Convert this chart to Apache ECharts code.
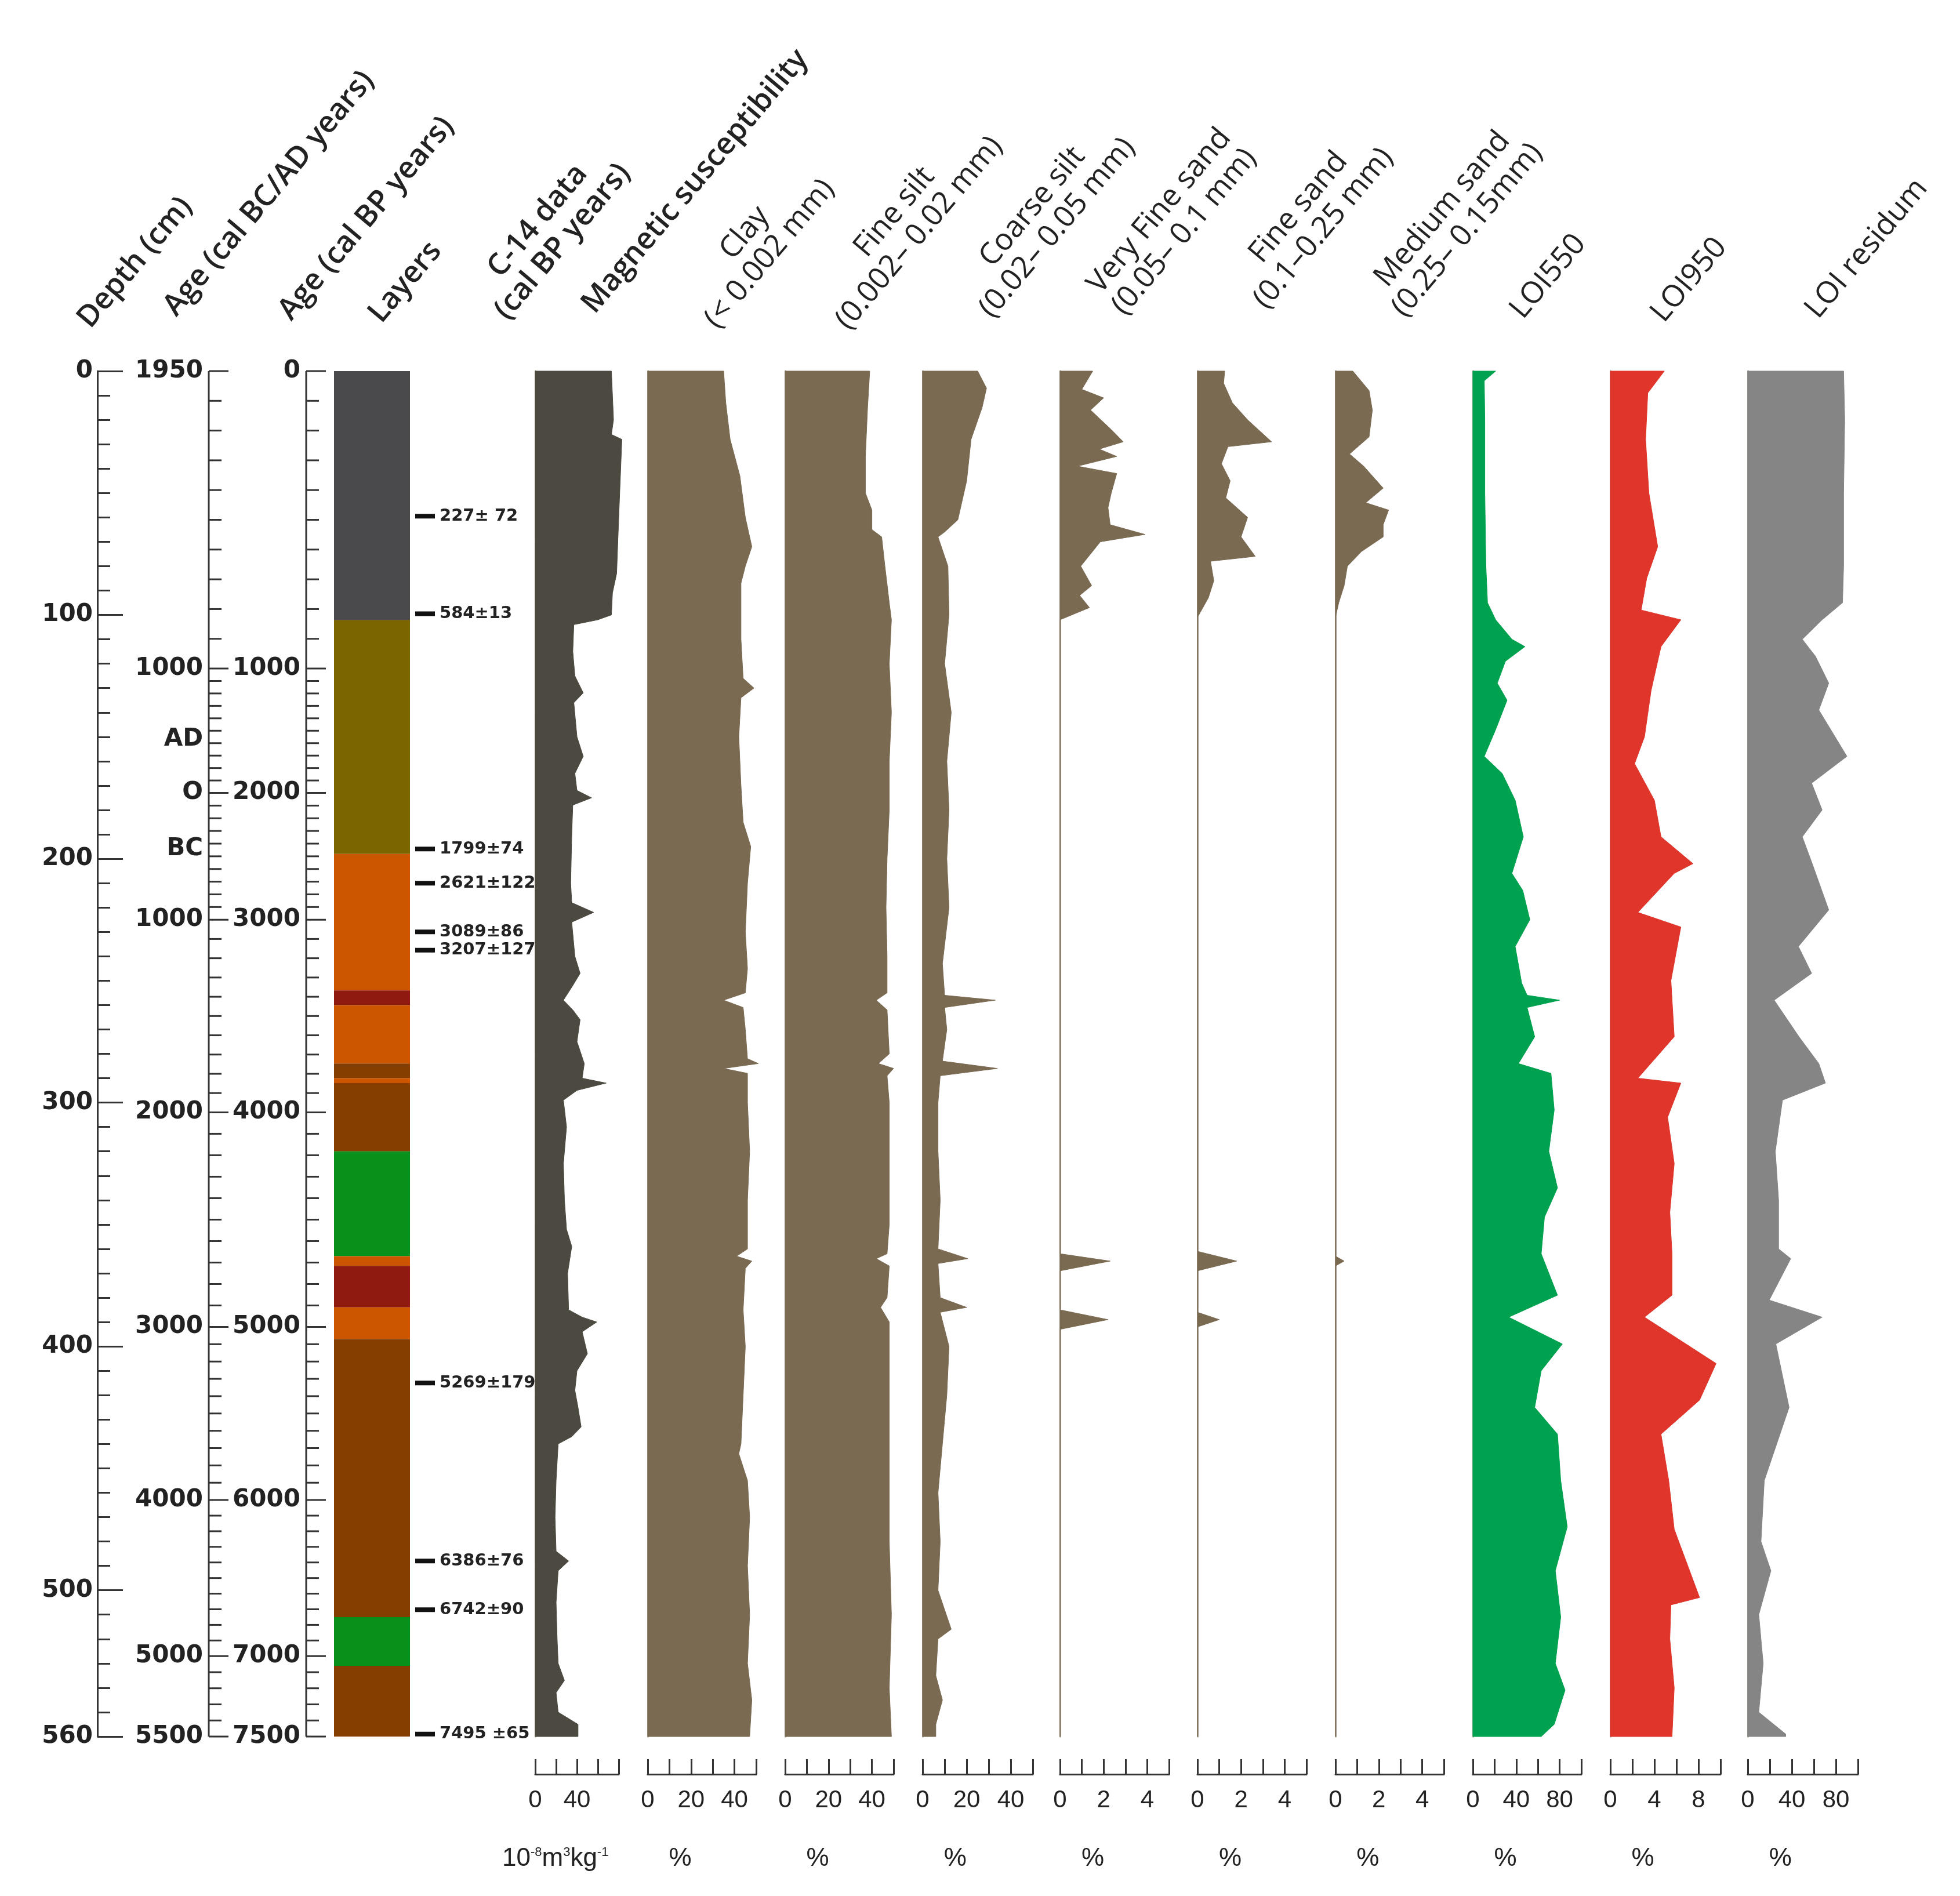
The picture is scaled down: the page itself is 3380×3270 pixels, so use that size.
<!DOCTYPE html>
<html>
<head>
<meta charset="utf-8">
<title>Core profile</title>
<script src="https://cdn.jsdelivr.net/npm/echarts@6/dist/echarts.min.js"></script>
<style>
  * { margin: 0; padding: 0; }
  body { background: #fff; }
  #chart { width: 3380px; height: 3270px; }
</style>
</head>
<body>
<div id="chart"></div>
<script>
// ---- data (depth in cm, value) ----
var bpTicks = [[0, 0], [1000, 122], [2000, 173], [3000, 225], [4000, 304], [5000, 392], [6000, 463], [7000, 527], [7500, 560]];
var bcadLabels = ['1950', '1000', 'AD', 'O', 'BC', '1000', '2000', '3000', '4000', '5000', '5500'];
var bcadDepths = [0, 122, 151, 173, 196, 225, 304, 392, 463, 527, 560];
var bcadMajor = [1, 1, 0, 1, 0, 1, 1, 1, 1, 1, 1];

var layerTops    = [0, 102, 198, 254, 260, 284, 290, 292, 320, 363, 367, 384, 397, 511, 531];
var layerBottoms = [102, 198, 254, 260, 284, 290, 292, 320, 363, 367, 384, 397, 511, 531, 560];
var layerColors  = ['#4a4a4c', '#7b6500', '#cc5500', '#8e1a10', '#cc5500', '#853d00', '#cc5500', '#853d00',
                    '#07901a', '#cc5500', '#8e1a10', '#cc5500', '#853d00', '#07901a', '#853d00'];

var c14Labels = ['227\u00b1 72', '584\u00b113', '1799\u00b174', '2621\u00b1122', '3089\u00b186', '3207\u00b1127',
                 '5269\u00b1179', '6386\u00b176', '6742\u00b190', '7495 \u00b165'];
var c14Depths = [59.5, 99.5, 196, 210, 230, 237.5, 415, 488, 508, 559];

var msData = [[0,73],[20,75],[26,73],[28,83],[60,80],[83,78],[91,74],[100,73],[102,60],[104,37],[115,36],[125,38],[132,46],[136,37],[150,40],[158,46],[165,38],[172,40],[175,54],[178,36],[190,35],[210,34],[218,35],[222,56],[226,35],[240,38],[247,43],[252,36],[258,27],[262,36],[266,43],[275,40],[284,47],[290,45],[292,68],[295,40],[299,27],[310,30],[325,27],[340,28],[352,30],[359,35],[370,31],[385,32],[388,45],[390,59],[394,45],[403,50],[410,40],[418,38],[425,41],[433,44],[437,35],[440,22],[455,20],[470,19],[484,20],[488,32],[492,22],[505,20],[520,21],[530,22],[537,28],[542,20],[550,22],[555,41],[560,41]];
var clayData = [[0,35],[13,36],[28,38],[43,42.5],[60,45],[72,48],[80,45],[87,43],[100,43],[110,43],[126,44],[130,49],[134,43],[150,42],[170,43],[185,44],[195,47.5],[210,46],[230,45],[245,46],[255,45],[258,35],[261,44],[270,45],[282,46],[284,51],[286,35],[288,46],[300,46],[320,47],[340,46],[360,46],[363,41],[365,48],[368,45],[385,44],[400,45],[420,44],[440,43],[444,42],[455,46],[470,47],[490,46],[510,47],[530,46],[545,48],[560,47]];
var fineSiltData = [[0,39],[15,38],[35,37],[50,37],[57,40],[65,40],[68,44.5],[80,46],[95,48],[102,49],[120,48],[140,49],[160,48],[180,48],[200,47],[220,46.5],[240,47],[255,47],[258,42],[262,47],[280,48],[284,43],[286,50],[289,47],[300,48],[330,48],[350,48],[362,47],[364,42],[367,48],[380,47],[384,44],[390,48],[420,48],[450,48],[480,48],[510,49],[540,48],[560,49]];
var coarseSiltData = [[0,25],[7,29],[15,27],[28,22],[45,20],[61,16],[66,10],[68,7],[80,11.5],[100,12],[120,10],[140,13],[160,11],[180,12],[200,11],[220,12],[243,9],[256,10],[258,33],[261,10],[270,11],[283,9],[286,34],[289,8],[300,7],[320,7],[340,8],[360,7],[364,20.5],[366,7],[380,8],[384,20],[386,8],[400,12],[420,11],[440,9],[460,7],[480,8],[500,7],[516,13],[520,7],[535,6],[545,9],[555,6],[560,6]];
var vfSandData = [[0,1.5],[7.5,1.0],[11,2.0],[16,1.4],[24,2.35],[29,2.9],[32,1.8],[35,2.6],[39,0.8],[42,2.6],[50,2.35],[56,2.2],[63,2.3],[67,3.9],[70,1.85],[80,0.95],[88,1.45],[92,0.9],[97,1.35],[102,0],[362,0],[365,2.3],[369,0],[385,0],[389,2.2],[393,0],[560,0]];
var fineSandData = [[0,1.25],[5,1.2],[13,1.6],[20,2.3],[29,3.4],[31,1.4],[38,1.1],[45,1.5],[52,1.3],[60,2.3],[68,2.0],[76,2.65],[78,0.6],[86,0.75],[93,0.5],[101,0],[361,0],[365,1.8],[369,0],[386,0],[389,1.0],[392,0],[560,0]];
var medSandData = [[0,0.8],[8,1.55],[16,1.7],[27,1.55],[34,0.65],[39,1.3],[48,2.2],[54,1.4],[57,2.45],[63,2.2],[68,2.2],[74,1.2],[80,0.55],[88,0.4],[95,0.15],[101,0],[363,0],[365,0.4],[367,0],[560,0]];
var loi550Data = [[0,21],[4,10.5],[20,11],[50,11],[80,12],[95,13.5],[102,21],[110,36],[113,48],[119,30],[128,22.5],[135,31.5],[147,21],[158,10.5],[165,27],[176,39],[191,46.5],[206,36],[213,46],[225,52.5],[236,39],[251,45],[256,50],[258,80],[261,50],[273,57],[284,42],[288,72],[303,75],[320,70],[335,78],[347,66],[362,63],[379,78],[388,33],[399,82.5],[410,63],[425,57],[436,78],[455,81],[474,87],[492,76],[511,81],[530,76],[541,85],[555,75],[560,63]];
var loi950Data = [[0,4.9],[9,3.4],[28,3.2],[50,3.5],[72,4.3],[85,3.3],[98,2.8],[102,6.4],[113,4.6],[131,3.7],[150,3.1],[161,2.2],[176,4.0],[191,4.6],[202,7.5],[206,5.8],[222,2.5],[228,6.4],[250,5.5],[273,5.8],[290,2.5],[292,6.4],[306,5.2],[325,5.8],[345,5.4],[362,5.6],[379,5.6],[388,3.1],[407,9.6],[422,8.1],[436,4.6],[455,5.3],[475,5.8],[503,8.1],[506,5.5],[520,5.4],[540,5.8],[560,5.6]];
var loiResData = [[0,87],[20,88],[50,87],[80,87],[95,86],[102,67.5],[110,49.5],[117,61.5],[128,73.5],[139,64.5],[158,90],[169,58],[180,67.5],[191,49.5],[202,58.5],[221,73.5],[236,46],[247,58],[258,24],[273,46.5],[284,64.5],[292,70.5],[299,31.5],[320,25],[340,28],[360,28],[364,39],[381,19.5],[388,67.5],[399,25.5],[425,37.5],[455,15],[480,12],[492,21],[510,10],[530,14],[550,10],[559,34.5],[560,34.5]];

// ---- layout ----
var TOP = 640, BOTTOM = 275;
var BROWN = '#7b6a52';
var cols = [
  { data: msData,         left: 923,  width: 144, max: 80,  step: 20, lab: 40, color: '#4c4a40' },
  { data: clayData,       left: 1117, width: 187, max: 50,  step: 10, lab: 20, color: BROWN },
  { data: fineSiltData,   left: 1354, width: 187, max: 50,  step: 10, lab: 20, color: BROWN },
  { data: coarseSiltData, left: 1591, width: 190, max: 50,  step: 10, lab: 20, color: BROWN },
  { data: vfSandData,     left: 1828, width: 188, max: 5,   step: 1,  lab: 2,  color: BROWN },
  { data: fineSandData,   left: 2065, width: 188, max: 5,   step: 1,  lab: 2,  color: BROWN },
  { data: medSandData,    left: 2303, width: 187, max: 5,   step: 1,  lab: 2,  color: BROWN },
  { data: loi550Data,     left: 2540, width: 187, max: 100, step: 20, lab: 40, color: '#00a250' },
  { data: loi950Data,     left: 2777, width: 190, max: 10,  step: 2,  lab: 4,  color: '#e0352b' },
  { data: loiResData,     left: 3014, width: 190, max: 100, step: 20, lab: 40, color: '#858585' }
];

var axisFont = { fontFamily: 'DejaVu Sans', fontWeight: 'bold', fontSize: 42, color: '#222' };

var grids = [], xAxes = [], yAxes = [], series = [];

// left grid: depth axis, age axes, layers, C-14 (x units = page pixels)
grids.push({ left: 168, right: 3380 - 1000, top: TOP, bottom: BOTTOM });
xAxes.push({ gridIndex: 0, type: 'value', min: 168, max: 1000, show: false });
yAxes.push({
  gridIndex: 0, type: 'value', min: 0, max: 560, interval: 100, inverse: true,
  axisLine: { show: true, lineStyle: { color: '#333', width: 3 } },
  axisTick: { show: true, inside: true, length: 44, lineStyle: { color: '#333', width: 3 } },
  minorTick: { show: true, splitNumber: 10, length: 22, lineStyle: { color: '#333', width: 3 } },
  splitLine: { show: false },
  axisLabel: Object.assign({ margin: 8 }, axisFont)
});

function bpToDepth(bp) {
  for (var i = 1; i < bpTicks.length; i++) {
    if (bp <= bpTicks[i][0]) {
      var a = bpTicks[i - 1], b = bpTicks[i];
      return a[1] + (b[1] - a[1]) * (bp - a[0]) / (b[0] - a[0]);
    }
  }
  return 560;
}
var minorDepths = [];
for (var bp = 100; bp < 7500; bp += 100) {
  if (bp % 1000 !== 0) minorDepths.push(bpToDepth(bp));
}

function axisLineSeries(x) {
  return {
    type: 'custom', xAxisIndex: 0, yAxisIndex: 0, data: [[0, 560]], silent: true,
    renderItem: function (p, api) {
      var a = api.coord([x, 0]), b = api.coord([x, 560]);
      return { type: 'line', shape: { x1: a[0], y1: a[1], x2: b[0], y2: b[1] }, style: { stroke: '#333', lineWidth: 3 } };
    }
  };
}
function minorTickSeries(x) {
  return {
    type: 'custom', xAxisIndex: 0, yAxisIndex: 0, data: minorDepths.map(function (d) { return [0, d]; }), silent: true,
    renderItem: function (p, api) {
      var a = api.coord([x, api.value(1)]);
      return { type: 'line', shape: { x1: a[0], y1: a[1], x2: a[0] + 22, y2: a[1] }, style: { stroke: '#333', lineWidth: 3 } };
    }
  };
}
function labelTickSeries(x, labels, depths, major) {
  return {
    type: 'custom', xAxisIndex: 0, yAxisIndex: 0, data: depths.map(function (d) { return [0, d]; }), silent: true,
    renderItem: function (p, api) {
      var a = api.coord([x, api.value(1)]);
      var kids = [{ type: 'text', x: a[0] - 10, y: a[1],
        style: { text: labels[p.dataIndex], textAlign: 'right', textVerticalAlign: 'middle',
                 font: 'bold 42px "DejaVu Sans"', fill: '#222' } }];
      if (major[p.dataIndex]) {
        kids.push({ type: 'line', shape: { x1: a[0], y1: a[1], x2: a[0] + 34, y2: a[1] }, style: { stroke: '#333', lineWidth: 3 } });
      }
      return { type: 'group', children: kids };
    }
  };
}
series.push(axisLineSeries(360), minorTickSeries(360),
  labelTickSeries(360, bcadLabels, bcadDepths, bcadMajor));
series.push(axisLineSeries(528), minorTickSeries(528),
  labelTickSeries(528, bpTicks.map(function (t) { return String(t[0]); }), bpTicks.map(function (t) { return t[1]; }), bpTicks.map(function () { return 1; })));

// layers
series.push({
  type: 'custom', xAxisIndex: 0, yAxisIndex: 0, silent: true,
  data: layerTops.map(function (t, i) { return [t, layerBottoms[i]]; }),
  renderItem: function (p, api) {
    var a = api.coord([576, api.value(0)]), b = api.coord([707, api.value(1)]);
    return { type: 'rect', shape: { x: a[0], y: a[1], width: b[0] - a[0], height: b[1] - a[1] },
             style: { fill: layerColors[p.dataIndex] } };
  }
});
// C-14 dates
series.push({
  type: 'custom', xAxisIndex: 0, yAxisIndex: 0, silent: true,
  data: c14Depths.map(function (d) { return [0, d]; }),
  renderItem: function (p, api) {
    var a = api.coord([716, api.value(1)]), b = api.coord([750, api.value(1)]);
    return { type: 'group', children: [
      { type: 'rect', shape: { x: a[0], y: a[1] - 4, width: b[0] - a[0], height: 8 }, style: { fill: '#111' } },
      { type: 'text', x: b[0] + 8, y: a[1], style: { text: c14Labels[p.dataIndex], textVerticalAlign: 'middle',
        font: 'bold 29px "DejaVu Sans"', fill: '#222' } }
    ] };
  }
});

// profile columns: filled polygon between value 0 and the curve
cols.forEach(function (c, i) {
  var gi = i + 1;
  grids.push({ left: c.left, width: c.width, top: TOP, bottom: BOTTOM });
  xAxes.push({
    gridIndex: gi, type: 'value', min: 0, max: c.max, interval: c.step, position: 'bottom', offset: 65,
    axisLine: { show: true, onZero: false, lineStyle: { color: '#333', width: 3 } },
    axisTick: { show: true, inside: true, length: 26, lineStyle: { color: '#333', width: 3 } },
    splitLine: { show: false },
    axisLabel: {
      margin: 24, fontFamily: 'Liberation Sans', fontSize: 42, color: '#222',
      formatter: function (v) { return (v % c.lab === 0 && v < c.max) ? String(v) : ''; }
    }
  });
  yAxes.push({
    gridIndex: gi, type: 'value', min: 0, max: 560, inverse: true,
    axisLine: { show: true, onZero: false, lineStyle: { color: '#a09888', width: 3 } },
    axisTick: { show: false }, axisLabel: { show: false }, splitLine: { show: false }
  });
  var pts = c.data.map(function (d) { return [d[1], d[0]]; });
  series.push({
    type: 'custom', xAxisIndex: gi, yAxisIndex: gi, data: pts, silent: true,
    renderItem: function (p, api) {
      if (p.dataIndex !== 0) return null;
      var poly = [api.coord([0, pts[0][1]])];
      pts.forEach(function (q) { poly.push(api.coord(q)); });
      poly.push(api.coord([0, pts[pts.length - 1][1]]));
      return { type: 'polygon', shape: { points: poly }, style: { fill: c.color, stroke: c.color, lineWidth: 1 } };
    }
  });
});

// header titles (rotated) and units
var R = 50 * Math.PI / 180;
function title(x, y, text, bold) {
  return { type: 'text', x: x, y: y, rotation: R,
    style: { text: text, textAlign: 'center', textVerticalAlign: 'middle', lineHeight: 56,
             font: (bold ? '600 ' : 'normal ') + '52px "Open Sans"', fill: '#222' } };
}
var graphics = [
  title(233, 453, 'Depth (cm)', true),
  title(464, 334, 'Age (cal BC/AD years)', true),
  title(632, 377, 'Age (cal BP years)', true),
  title(699, 487, 'Layers', true),
  title(949, 399, 'C-14 data\n(cal BP years)', true),
  title(1199, 313, 'Magnetic susceptibility', true),
  title(1306, 420, 'Clay\n(< 0.002 mm)', false),
  title(1564, 384, 'Fine silt\n(0.002\u2013 0.02 mm)', false),
  title(1802, 375, 'Coarse silt\n(0.02\u2013 0.05 mm)', false),
  title(2021, 382, 'Very Fine sand\n(0.05\u2013 0.1 mm)', false),
  title(2261, 376, 'Fine sand\n(0.1\u20130.25 mm)', false),
  title(2509, 379, 'Medium sand\n(0.25\u2013 0.15mm)', false),
  title(2670, 477, 'LOI550', false),
  title(2913, 483, 'LOI950', false),
  title(3219, 429, 'LOI residum', false),
  { type: 'text', x: 866, y: 3206, style: { text: '10{s|-8}m{s|3}kg{s|-1}', textVerticalAlign: 'middle',
    font: '44px "Liberation Sans"', fill: '#222',
    rich: { s: { fontSize: 22, verticalAlign: 'top', padding: [0, 0, 22, 0], fontFamily: 'Liberation Sans' } } } }
];
[535, 645, 755, 865, 975, 1085, 1195, 1305, 1415].forEach(function (dx) {
  graphics.push({ type: 'text', x: dx * 2.156, y: 3206, style: { text: '%', textVerticalAlign: 'middle',
    font: '44px "Liberation Sans"', fill: '#222' } });
});

var chart = echarts.init(document.getElementById('chart'));
chart.setOption({
  animation: false,
  backgroundColor: '#ffffff',
  grid: grids, xAxis: xAxes, yAxis: yAxes, series: series,
  graphic: graphics
});
</script>
</body>
</html>
